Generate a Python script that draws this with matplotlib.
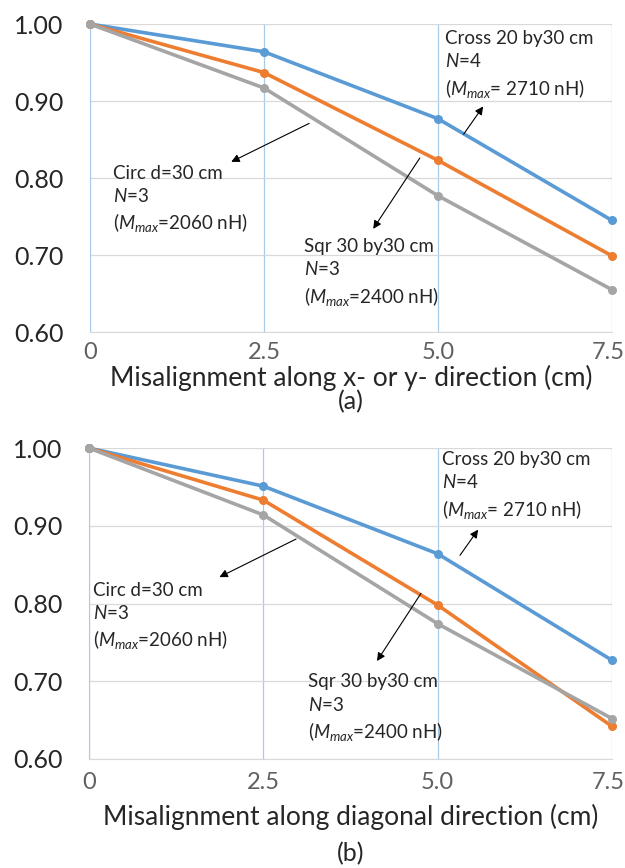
import matplotlib
matplotlib.use('Agg')
import matplotlib.pyplot as plt
from matplotlib.transforms import ScaledTranslation

plt.rcParams['font.family'] = ['Lato', 'DejaVu Sans']
plt.rcParams['mathtext.fontset'] = 'custom'
plt.rcParams['mathtext.rm'] = 'Lato'
plt.rcParams['mathtext.it'] = 'Lato:italic'

# misalignment (cm)
offsets = [0, 2.5, 5.0, 7.5]
xtick_labels = ['0', '2.5', '5.0', '7.5']
yticks = [0.60, 0.70, 0.80, 0.90, 1.00]

# (a) along x- or y- direction
cross_a = [1.0, 0.964, 0.877, 0.745]
circ_a = [1.0, 0.937, 0.823, 0.699]
sqr_a = [1.0, 0.917, 0.777, 0.655]

# (b) along diagonal direction
cross_b = [1.0, 0.951, 0.864, 0.727]
circ_b = [1.0, 0.933, 0.798, 0.642]
sqr_b = [1.0, 0.914, 0.774, 0.652]

cross_txt = 'Cross 20 by30 cm\n$\\mathit{N}$=4\n($\\mathit{M}_{\\mathit{max}}$= 2710 nH)'
circ_txt = 'Circ d=30 cm\n$\\mathit{N}$=3\n($\\mathit{M}_{\\mathit{max}}$=2060 nH)'
sqr_txt = 'Sqr 30 by30 cm\n$\\mathit{N}$=3\n($\\mathit{M}_{\\mathit{max}}$=2400 nH)'

BLUE = '#5B9BD5'
ORANGE = '#ED7D31'
GRAY = '#A5A5A5'


def draw_panel(ax, cross, circ, sqr, xlabel, tag, tickpad, label_y, tag_y, labels, arrows):
    for vals, c in [(cross, BLUE), (circ, ORANGE), (sqr, GRAY)]:
        ax.plot(offsets, vals, color=c, lw=2.6, marker='o', ms=5.5, clip_on=False, zorder=3)
    ax.set_xlim(0, 7.5)
    ax.set_ylim(0.6, 1.0)
    ax.set_xticks(offsets)
    ax.set_xticklabels(xtick_labels)
    ax.set_yticks(yticks)
    ax.set_yticklabels(['%.2f' % v for v in yticks])
    ax.tick_params(axis='x', length=0, pad=tickpad, labelsize=17, labelcolor='#606060')
    ax.tick_params(axis='y', length=0, pad=19, labelsize=18, labelcolor='#262626')
    # keep the last x label inside the figure
    last = ax.get_xticklabels()[-1]
    last.set_transform(last.get_transform() + ScaledTranslation(-4 / 100, 0, ax.figure.dpi_scale_trans))
    ax.grid(axis='x', color='#A9CBE8', lw=0.9)
    ax.grid(axis='y', color='#D9D9D9', lw=0.9)
    for s in ['top', 'right']:
        ax.spines[s].set_visible(False)
    ax.spines['left'].set_color('#A9CBE8')
    ax.spines['bottom'].set_color('#D9D9D9')
    ax.set_axisbelow(True)
    ax.set_xlabel(xlabel, fontsize=19, color='#262626', va='center')
    ax.xaxis.set_label_coords(0.5, label_y)
    ax.text(0.5, tag_y, tag, transform=ax.transAxes, ha='center', va='center',
            fontsize=18, color='#262626')
    for txt, (x, y) in zip([cross_txt, circ_txt, sqr_txt], labels):
        ax.text(x, y, txt, fontsize=13.5, color='#262626', ha='left', va='top',
                linespacing=1.35, zorder=4)
    for (x0, y0), (x1, y1) in arrows:
        ax.annotate('', xy=(x1, y1), xytext=(x0, y0),
                    arrowprops=dict(arrowstyle='-|>', color='black', lw=0.8,
                                    mutation_scale=12, shrinkA=0, shrinkB=0))


fig = plt.figure(figsize=(6.25, 8.68), dpi=100)
ax1 = fig.add_axes([0.144, 0.6175, 0.835, 0.3548])
ax2 = fig.add_axes([0.1424, 0.1256, 0.8368, 0.3582])

draw_panel(ax1, cross_a, circ_a, sqr_a, 'Misalignment along x- or y- direction (cm)', '(a)',
           7.2, -0.148, -0.226,
           [(5.10, 0.992), (0.33, 0.817), (3.07, 0.722)],
           [((5.37, 0.857), (5.65, 0.893)),
            ((3.15, 0.871), (2.03, 0.821)),
            ((4.74, 0.826), (4.07, 0.734))])

draw_panel(ax2, cross_b, circ_b, sqr_b, 'Misalignment along diagonal direction (cm)', '(b)',
           9.4, -0.187, -0.303,
           [(5.06, 0.996), (0.06, 0.828), (3.14, 0.710)],
           [((5.32, 0.862), (5.58, 0.895)),
            ((2.97, 0.883), (1.87, 0.834)),
            ((4.76, 0.813), (4.13, 0.726))])

fig.savefig('out.png', dpi=100)
